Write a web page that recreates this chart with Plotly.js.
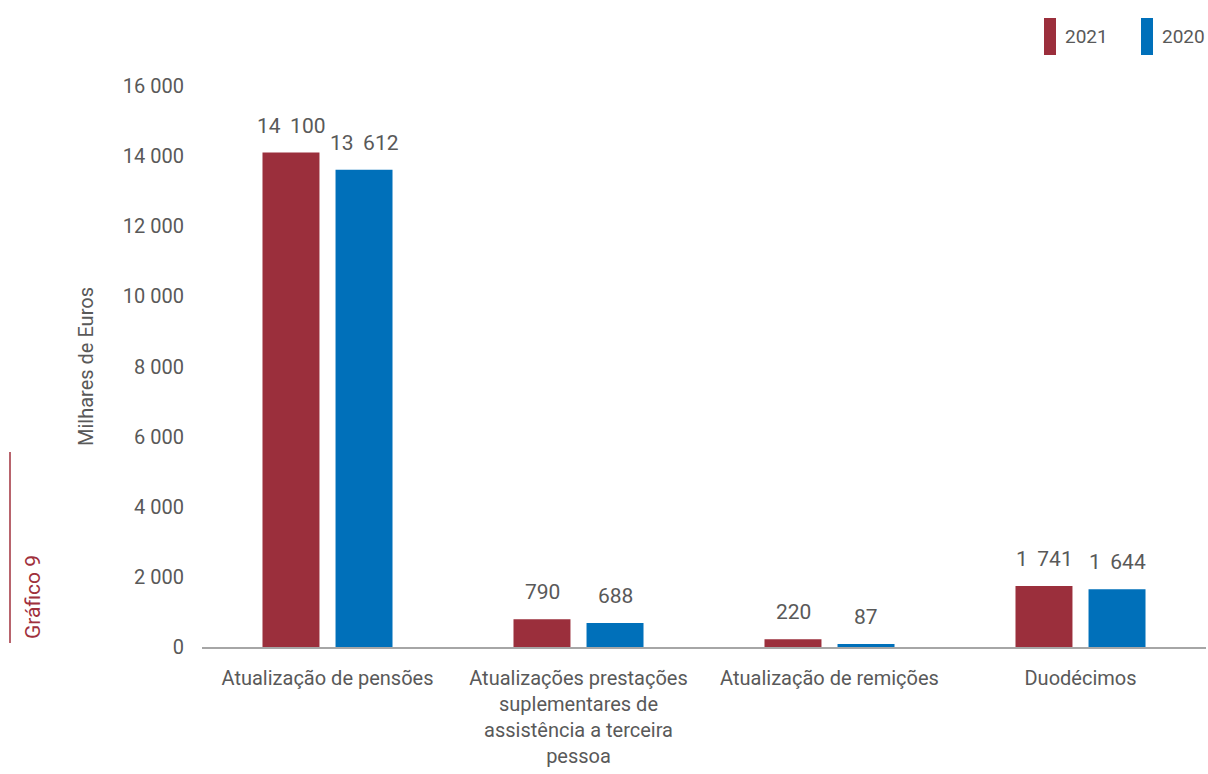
<!DOCTYPE html>
<html><head><meta charset="utf-8">
<script src="https://cdn.plot.ly/plotly-3.0.1.min.js"></script>
<style>body{margin:0;background:#fff}#c{width:1208px;height:774px}</style>
</head><body><div id="c"></div>
<script>
const categories = ["Atualização de pensões", "Atualizações prestações<br>suplementares de<br>assistência a terceira<br>pessoa", "Atualização de remições", "Duodécimos"];
const series2021 = [14100, 790, 220, 1741];
const series2020 = [13612, 688, 87, 1644];
const yTicks = [0, 2000, 4000, 6000, 8000, 10000, 12000, 14000, 16000];
const yTickLabels = ["0", "2 000", "4 000", "6 000", "8 000", "10 000", "12 000", "14 000", "16 000"];
const red = "#9B2F3C", blue = "#0070BA";
function fmt(v){ const s = String(v); return s.length > 3 ? s.slice(0, s.length-3) + "\u2009 " + s.slice(-3) : s; }
const font = "Roboto, sans-serif";
const L = 202, T = 86, W = 1004, H = 561;
const px = x => (x - L) / W, py = y => (T + H - y) / H;
const traces = [
  {type:"bar", name:"2021", x:categories, y:series2021, marker:{color:red}},
  {type:"bar", name:"2020", x:categories, y:series2020, marker:{color:blue}}
];
const labelAnn = [];
[[series2021, -36.5], [series2020, 36.5]].forEach(([vals, dx]) => {
  vals.forEach((v, i) => labelAnn.push({xref:"x", yref:"y", x:categories[i], y:v, xshift:dx, yshift:13, xanchor:"center", yanchor:"bottom",
    text:fmt(v), showarrow:false, font:{size:21, color:"#595959"}}));
});
const layout = {
  width:1208, height:774,
  margin:{l:L, r:1208-L-W, t:T, b:774-T-H},
  paper_bgcolor:"#fff", plot_bgcolor:"#fff",
  font:{family:font, color:"#595959", size:19},
  barmode:"group", bargap:0.418, bargroupgap:0.22,
  showlegend:false,
  xaxis:{showgrid:false, zeroline:false, showline:true, linecolor:"#A6A6A6", linewidth:1.5, ticks:"", ticklabelstandoff:12, tickfont:{size:20,color:"#595959"}},
  yaxis:{range:[0,16000], tickvals:yTicks, ticktext:yTickLabels, showgrid:false, zeroline:false, showline:false, ticks:"", ticklabelstandoff:17, tickfont:{size:20,color:"#595959"},
         title:{text:"Milhares de Euros", font:{size:20,color:"#595959"}, standoff:23}},
  shapes:[
    {type:"rect", xref:"paper", yref:"paper", x0:px(1044), x1:px(1056), y0:py(55), y1:py(18), fillcolor:red, line:{width:0}},
    {type:"rect", xref:"paper", yref:"paper", x0:px(1141), x1:px(1153), y0:py(55), y1:py(18), fillcolor:blue, line:{width:0}},
    {type:"line", xref:"paper", yref:"paper", x0:px(10), x1:px(10), y0:py(452), y1:py(643), line:{color:"#A0303C", width:1.5}}
  ],
  annotations:labelAnn.concat([
    {xref:"paper", yref:"paper", x:px(1063), y:py(37), xanchor:"left", yanchor:"middle", text:"2021", showarrow:false, font:{size:19,color:"#595959"}},
    {xref:"paper", yref:"paper", x:px(1160), y:py(37), xanchor:"left", yanchor:"middle", text:"2020", showarrow:false, font:{size:19,color:"#595959"}},
    {xref:"paper", yref:"paper", x:px(33), y:py(597), xanchor:"center", yanchor:"middle", text:"Gráfico 9", textangle:-90, showarrow:false, font:{size:21,color:"#A0303C"}}
  ])
};
Plotly.newPlot("c", traces, layout, {displayModeBar:false, staticPlot:true});
</script></body></html>
